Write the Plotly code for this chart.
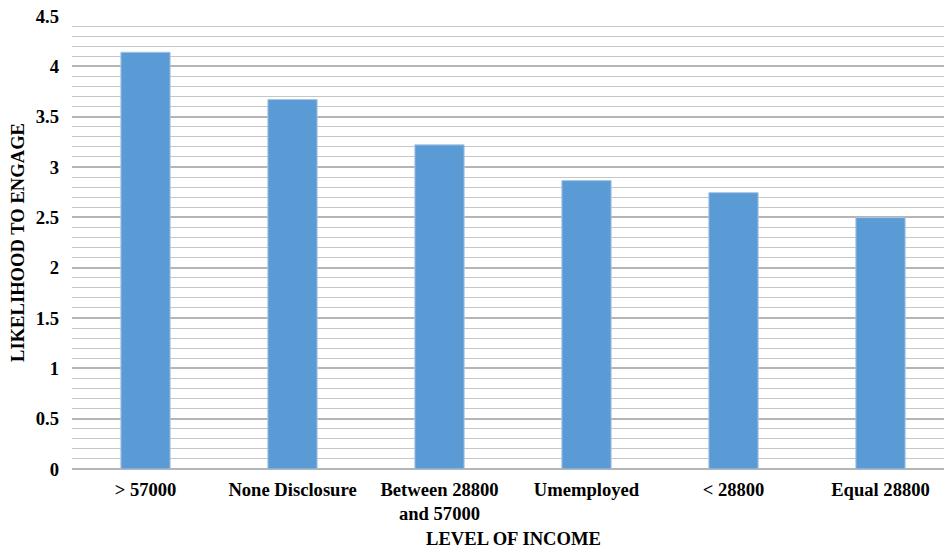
import plotly.graph_objects as go

# Income groups and mean likelihood to engage
categories = ["> 57000", "None Disclosure", "Between 28800<br>and 57000",
              "Umemployed", "< 28800", "Equal 28800"]
likelihood = [4.14, 3.67, 3.22, 2.865, 2.745, 2.497]

FONT = "Liberation Serif, Times New Roman, serif"
SIZE = 18.6
TEXT_FONT = dict(family=FONT, size=SIZE, color="black", weight="bold")

fig = go.Figure(
    go.Bar(
        x=list(range(len(categories))),
        y=likelihood,
        width=0.335,
        marker=dict(color="#5b9bd5", line=dict(color="#a8c5e3", width=1)),
        hoverinfo="y",
    )
)

fig.update_layout(
    width=944,
    height=549,
    margin=dict(l=72, r=0, t=16, b=80),
    paper_bgcolor="white",
    plot_bgcolor="white",
    showlegend=False,
    font=TEXT_FONT,
)

fig.update_xaxes(
    tickmode="array",
    tickvals=list(range(len(categories))),
    ticktext=categories,
    range=[-0.5, 5.432],
    showgrid=False,
    showline=False,
    zeroline=False,
    ticks="",
    ticklabelstandoff=7,
    tickfont=TEXT_FONT,
)

# x-axis title centred under the six categories
fig.add_annotation(
    text="LEVEL OF INCOME",
    xref="x", x=(len(categories) - 1) / 2,
    yref="paper", y=-0.153, yanchor="middle",
    showarrow=False,
    font=TEXT_FONT,
)

fig.update_yaxes(
    range=[0, 4.5],
    dtick=0.5,
    tickformat="~g",
    showgrid=True,
    gridcolor="#b5b5b5",
    gridwidth=2,
    zeroline=True,
    zerolinecolor="#b5b5b5",
    zerolinewidth=2,
    minor=dict(dtick=0.1, showgrid=True, gridcolor="#c6c6c6", gridwidth=1),
    ticks="",
    ticklabelstandoff=12,
    tickfont=TEXT_FONT,
    title=dict(text="LIKELIHOOD TO ENGAGE", standoff=6, font=TEXT_FONT),
)

fig.write_html("out.html")
